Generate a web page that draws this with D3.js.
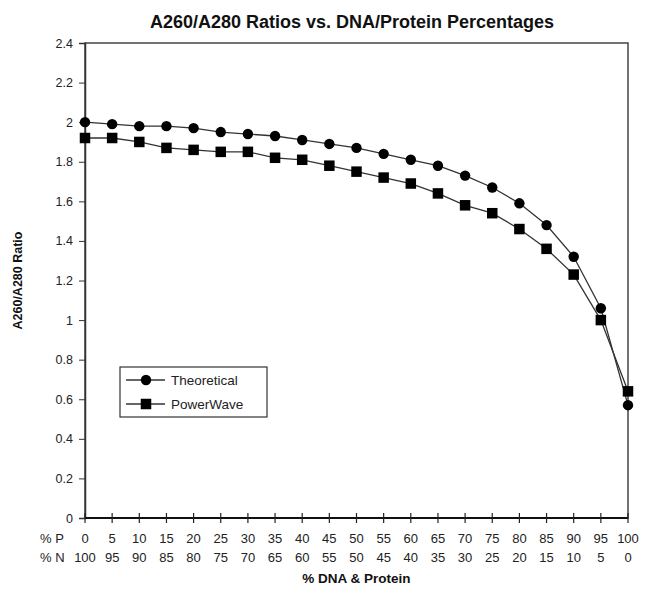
<!DOCTYPE html>
<html>
<head>
<meta charset="utf-8">
<script src="https://cdn.jsdelivr.net/npm/d3@7"></script>
<style>
  body { margin: 0; background: #fff; }
  svg { font-family: 'Liberation Sans', Arial, sans-serif; }
</style>
</head>
<body>
<div id="chart"></div>
<script>
// % protein and % nucleic acid for each sample
const pctProtein = [0, 5, 10, 15, 20, 25, 30, 35, 40, 45, 50, 55, 60, 65, 70, 75, 80, 85, 90, 95, 100];
const pctDNA = [100, 95, 90, 85, 80, 75, 70, 65, 60, 55, 50, 45, 40, 35, 30, 25, 20, 15, 10, 5, 0];

// A260/A280 ratios
const theoretical = [2.00, 1.99, 1.98, 1.98, 1.97, 1.95, 1.94, 1.93, 1.91, 1.89, 1.87, 1.84, 1.81, 1.78, 1.73, 1.67, 1.59, 1.48, 1.32, 1.06, 0.57];
const powerWave = [1.92, 1.92, 1.90, 1.87, 1.86, 1.85, 1.85, 1.82, 1.81, 1.78, 1.75, 1.72, 1.69, 1.64, 1.58, 1.54, 1.46, 1.36, 1.23, 1.00, 0.64];

const yTicks = [0, 0.2, 0.4, 0.6, 0.8, 1, 1.2, 1.4, 1.6, 1.8, 2, 2.2, 2.4];
const seriesNames = ['Theoretical', 'PowerWave'];

const width = 648;
const height = 590;
const margin = { top: 43, right: 20, bottom: 72, left: 85 };

const svg = d3.select('#chart')
  .append('svg')
  .attr('width', width)
  .attr('height', height);

const x = d3.scalePoint()
  .domain(pctProtein)
  .range([margin.left, width - margin.right]);

const y = d3.scaleLinear()
  .domain([0, 2.4])
  .range([height - margin.bottom, margin.top]);

// plot frame
svg.append('rect')
  .attr('x', margin.left)
  .attr('y', margin.top)
  .attr('width', width - margin.left - margin.right)
  .attr('height', height - margin.top - margin.bottom)
  .attr('fill', 'none')
  .attr('stroke', '#444')
  .attr('stroke-width', 1.5);

// title
svg.append('text')
  .attr('x', 352)
  .attr('y', 28)
  .attr('text-anchor', 'middle')
  .attr('font-size', 18)
  .attr('font-weight', 'bold')
  .attr('fill', '#111')
  .text('A260/A280 Ratios vs. DNA/Protein Percentages');

// y axis
const yAxis = svg.append('g')
  .attr('transform', 'translate(' + margin.left + ',0)')
  .call(d3.axisLeft(y).tickValues(yTicks).tickSize(6).tickPadding(6)
    .tickFormat(d => d3.format('~g')(d)));
yAxis.select('.domain').attr('stroke', '#333').attr('stroke-width', 1.5);
yAxis.selectAll('.tick line').attr('stroke', '#333');
yAxis.selectAll('.tick text')
  .attr('font-size', 12.5)
  .attr('fill', '#222')
  .attr('font-family', "'Liberation Sans', Arial, sans-serif");

svg.append('text')
  .attr('transform', 'translate(22,' + ((margin.top + height - margin.bottom) / 2) + ') rotate(-90)')
  .attr('text-anchor', 'middle')
  .attr('font-size', 12.5)
  .attr('font-weight', 'bold')
  .attr('fill', '#111')
  .text('A260/A280 Ratio');

// x axis (ticks cross the line)
const yBase = height - margin.bottom;
const xAxis = svg.append('g').attr('transform', 'translate(0,' + yBase + ')');
xAxis.append('line')
  .attr('x1', margin.left)
  .attr('x2', width - margin.right)
  .attr('stroke', '#111')
  .attr('stroke-width', 2);
xAxis.selectAll('.xtick')
  .data(pctProtein)
  .enter()
  .append('line')
  .attr('x1', d => x(d))
  .attr('x2', d => x(d))
  .attr('y1', -5)
  .attr('y2', 5)
  .attr('stroke', '#222')
  .attr('stroke-width', 1.2);

xAxis.selectAll('.lblP')
  .data(pctProtein)
  .enter()
  .append('text')
  .attr('x', d => x(d))
  .attr('y', 25)
  .attr('text-anchor', 'middle')
  .attr('font-size', 13)
  .attr('fill', '#222')
  .text(d => d);

xAxis.selectAll('.lblN')
  .data(pctDNA)
  .enter()
  .append('text')
  .attr('x', (d, i) => x(pctProtein[i]))
  .attr('y', 44)
  .attr('text-anchor', 'middle')
  .attr('font-size', 13)
  .attr('fill', '#222')
  .text(d => d);

xAxis.append('text')
  .attr('x', 40).attr('y', 25)
  .attr('font-size', 13).attr('fill', '#222')
  .text('% P');
xAxis.append('text')
  .attr('x', 40).attr('y', 44)
  .attr('font-size', 13).attr('fill', '#222')
  .text('% N');

svg.append('text')
  .attr('x', (margin.left + width - margin.right) / 2)
  .attr('y', height - 7)
  .attr('text-anchor', 'middle')
  .attr('font-size', 13.5)
  .attr('font-weight', 'bold')
  .attr('fill', '#111')
  .text('% DNA & Protein');

// series
const line = d3.line()
  .x((d, i) => x(pctProtein[i]))
  .y(d => y(d));

const allSeries = [theoretical, powerWave];

svg.selectAll('.series')
  .data(allSeries)
  .enter()
  .append('path')
  .attr('d', d => line(d))
  .attr('fill', 'none')
  .attr('stroke', '#333')
  .attr('stroke-width', 1.3);

svg.selectAll('.dot')
  .data(theoretical)
  .enter()
  .append('circle')
  .attr('cx', (d, i) => x(pctProtein[i]))
  .attr('cy', d => y(d))
  .attr('r', 5.2)
  .attr('fill', '#000');

const sq = 10.5;
svg.selectAll('.sq')
  .data(powerWave)
  .enter()
  .append('rect')
  .attr('x', (d, i) => x(pctProtein[i]) - sq / 2)
  .attr('y', d => y(d) - sq / 2)
  .attr('width', sq)
  .attr('height', sq)
  .attr('fill', '#000');

// legend
const legend = svg.append('g').attr('transform', 'translate(120,367)');
legend.append('rect')
  .attr('width', 147)
  .attr('height', 50)
  .attr('fill', '#fff')
  .attr('stroke', '#333')
  .attr('stroke-width', 1.2);

const rows = legend.selectAll('.row')
  .data(seriesNames)
  .enter()
  .append('g')
  .attr('transform', (d, i) => 'translate(0,' + (13 + i * 24) + ')');

rows.append('line')
  .attr('x1', 6).attr('x2', 45)
  .attr('stroke', '#333').attr('stroke-width', 1.3);

rows.each(function (d, i) {
  const g = d3.select(this);
  if (i === 0) {
    g.append('circle').attr('cx', 26).attr('r', 5.2).attr('fill', '#000');
  } else {
    g.append('rect').attr('x', 26 - sq / 2).attr('y', -sq / 2)
      .attr('width', sq).attr('height', sq).attr('fill', '#000');
  }
});

rows.append('text')
  .attr('x', 51)
  .attr('y', 4.5)
  .attr('font-size', 13.5)
  .attr('fill', '#222')
  .text(d => d);
</script>
</body>
</html>
